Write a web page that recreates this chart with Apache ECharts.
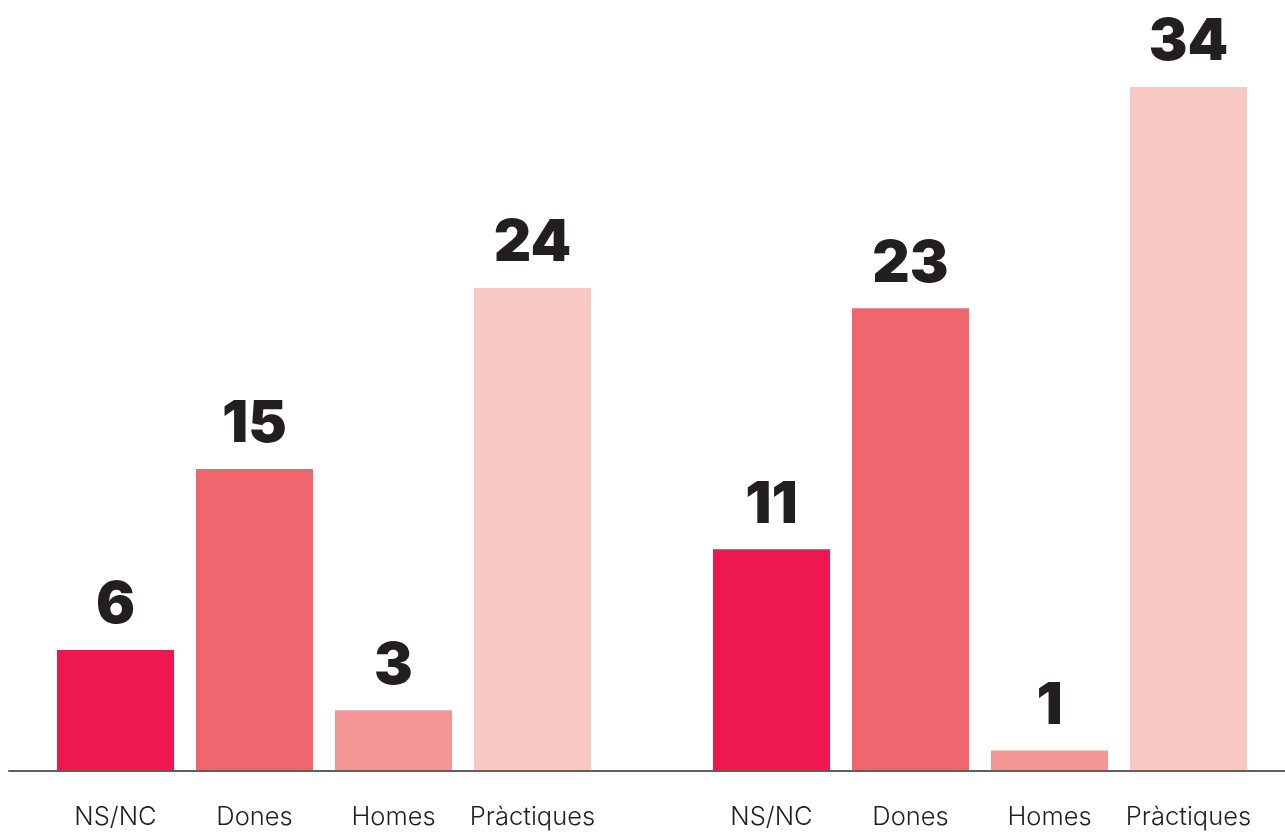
<!DOCTYPE html>
<html>
<head>
<meta charset="utf-8">
<script src="https://cdn.jsdelivr.net/npm/echarts@6/dist/echarts.min.js"></script>
<style>
html,body{margin:0;padding:0;background:#fff;}
#chart{width:1285px;height:832px;}
</style>
</head>
<body>
<div id="chart"></div>
<script>
const categories = ['NS/NC', 'Dones', 'Homes', 'Pràctiques'];
const group1Values = [6, 15, 3, 24];
const group2Values = [11, 23, 1, 34];
const barColors = ['#EE1750', '#F0666F', '#F49693', '#F8C9C4'];

const chart = echarts.init(document.getElementById('chart'));
const gridTop = 87, gridBottom = 61.5;

function makeData(vals) {
  return vals.map((v, i) => ({ value: v, itemStyle: { color: barColors[i] } }));
}
function catAxis(idx) {
  return {
    type: 'category', gridIndex: idx, data: categories,
    axisLine: { show: false }, axisTick: { show: false },
    axisLabel: { interval: 0, hideOverlap: false, color: '#231F20', fontFamily: 'Inter', fontWeight: 300, fontSize: 25.5, margin: 34 }
  };
}
function valAxis(idx) {
  return { type: 'value', gridIndex: idx, min: 0, max: 34, show: false };
}
const labelCfg = {
  show: true, position: 'top', distance: 15,
  color: '#231F20', fontFamily: 'Inter', fontWeight: 900, fontSize: 58
};

chart.setOption({
  animation: false,
  grid: [
    { left: 46, width: 556, top: gridTop, bottom: gridBottom },
    { left: 702, width: 556, top: gridTop, bottom: gridBottom },
    { left: 9, right: 0, top: gridTop, bottom: gridBottom }
  ],
  xAxis: [
    catAxis(0), catAxis(1),
    { type: 'value', gridIndex: 2, min: 0, max: 1, z: 10,
      axisLine: { show: true, onZero: false, lineStyle: { color: '#5f5f5f', width: 2 } },
      axisTick: { show: false }, axisLabel: { show: false }, splitLine: { show: false } }
  ],
  yAxis: [valAxis(0), valAxis(1), valAxis(2)],
  series: [
    { type: 'bar', xAxisIndex: 0, yAxisIndex: 0, barWidth: 117, data: makeData(group1Values), label: labelCfg },
    { type: 'bar', xAxisIndex: 1, yAxisIndex: 1, barWidth: 117, data: makeData(group2Values), label: labelCfg }
  ]
});
</script>
</body>
</html>
